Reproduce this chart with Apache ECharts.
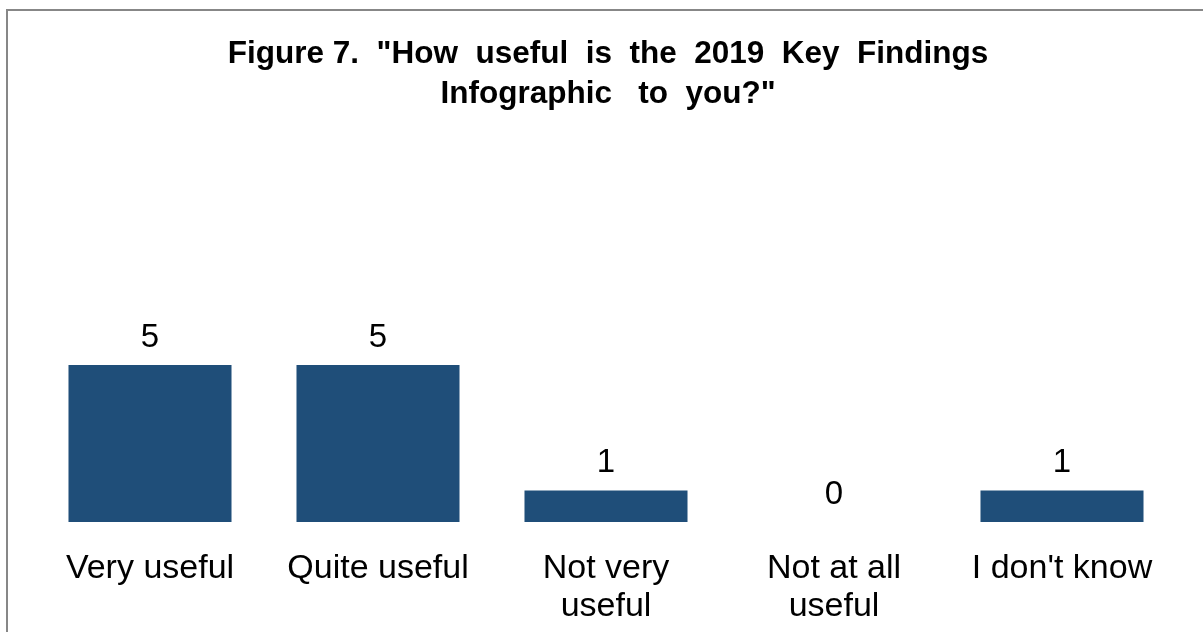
<!DOCTYPE html>
<html>
<head>
<meta charset="utf-8">
<script src="https://cdn.jsdelivr.net/npm/echarts@6/dist/echarts.min.js"></script>
<style>
  html, body { margin: 0; padding: 0; background: #fff; }
  #chart { width: 1203px; height: 632px; }
</style>
</head>
<body>
<div id="chart"></div>
<script>
// Survey responses: usefulness of the 2019 Key Findings Infographic
const categories = ['Very useful', 'Quite useful', 'Not very\nuseful', 'Not at all\nuseful', "I don't know"];
const responses = [5, 5, 1, 0, 1];
const titleText = 'Figure 7.  "How  useful  is  the  2019  Key  Findings\nInfographic   to  you?"';

const chart = echarts.init(document.getElementById('chart'), null, { renderer: 'canvas' });

chart.setOption({
  animation: false,
  backgroundColor: '#ffffff',
  textStyle: { fontFamily: '"Liberation Sans", Arial, sans-serif' },
  title: {
    text: titleText,
    left: 603,
    textAlign: 'center',
    top: 29,
    textStyle: {
      fontFamily: '"Liberation Sans", Arial, sans-serif',
      fontWeight: 'bold',
      fontSize: 31.5,
      lineHeight: 40,
      color: '#000'
    }
  },
  graphic: [{
    type: 'rect',
    shape: { x: 7, y: 10, width: 1250, height: 700 },
    style: { fill: 'none', stroke: '#878787', lineWidth: 2 },
    silent: true
  }],
  grid: { left: 36, right: 27, top: 333.6, bottom: 110, containLabel: false },
  xAxis: {
    type: 'category',
    data: categories,
    axisLine: { show: false },
    axisTick: { show: false },
    axisLabel: {
      interval: 0,
      margin: 28,
      fontSize: 34,
      lineHeight: 38,
      color: '#000',
      fontFamily: '"Liberation Sans", Arial, sans-serif',
      verticalAlign: 'top'
    }
  },
  yAxis: {
    type: 'value',
    min: 0,
    max: 6,
    show: false,
    splitLine: { show: false }
  },
  series: [{
    type: 'bar',
    data: responses,
    barCategoryGap: '28.5%',
    itemStyle: { color: '#1F4E79' },
    label: {
      show: true,
      position: 'top',
      distance: 11,
      fontSize: 33,
      color: '#000',
      fontFamily: '"Liberation Sans", Arial, sans-serif'
    }
  }]
});
</script>
</body>
</html>
